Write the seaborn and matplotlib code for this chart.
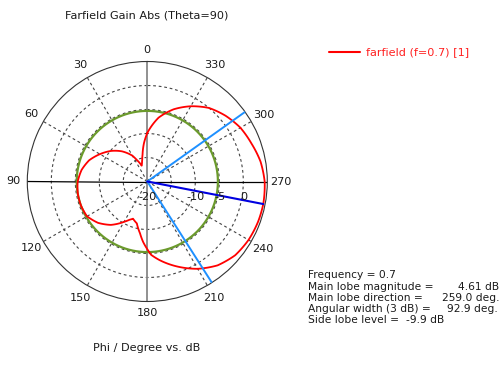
import numpy as np
import pandas as pd
import matplotlib
matplotlib.use("Agg")
import matplotlib.pyplot as plt
import matplotlib.transforms as mtransforms
from matplotlib.lines import Line2D
import seaborn as sns

# ---------------- data ----------------
phi_deg = [0, 5, 10, 13, 16, 19.6, 22, 26, 30, 40, 50, 60, 70, 80, 90, 100, 110, 120,
           130, 140, 150, 155, 159, 166, 172, 176, 180, 183, 189, 200, 210, 220, 230,
           240, 250, 259, 270, 280, 290, 300, 310, 320, 330, 340, 350, 360]
gain_db = [-9.9, -12.0, -14.3, -15.3, -16.0, -16.5, -15.9, -15.0, -13.8, -11.8, -10.1,
           -8.6, -7.1, -6.1, -5.5, -5.3, -5.3, -5.5, -6.6, -8.2, -10.3, -11.2, -11.7,
           -11.0, -9.1, -7.4, -5.9, -4.7, -3.4, -1.1, 1.0, 2.8, 3.9, 4.35, 4.55, 4.61,
           4.45, 3.95, 3.1, 2.4, 1.3, 0.0, -1.9, -4.0, -6.5, -9.9]
angle_ticks = [0, 30, 60, 90, 120, 150, 180, 210, 240, 270, 300, 330]
r_ticks = [-20, -10, -5, 0]
r_rings = [-15, -10, -5, 0]
r_min, r_max = -20, 5
main_lobe_mag = 4.61
main_lobe_dir = 259.0
ang_width = 92.9
side_lobe_level = -9.9
legend_label = "farfield (f=0.7) [1]"
info_labels = ["Frequency = 0.7", "Main lobe magnitude =", "Main lobe direction =",
               "Angular width (3 dB) =", "Side lobe level ="]
info_values = ["", "4.61 dB", "259.0 deg.", "92.9 deg.", "-9.9 dB"]

# ---------------- figure ----------------
sns.set_style("white")
plt.rcParams['font.family'] = ['DejaVu Sans']
FS = 7.7
FS_T = 8.1
TXT = '#1a1a1a'
W, H = 501, 365
fig = plt.figure(figsize=(W / 100, H / 100), dpi=100)
cx, cy, R = 147.3, 181.5, 120.0
ax = fig.add_axes([(cx - R) / W, (H - cy - R) / H, 2 * R / W, 2 * R / H], projection='polar')
ax.set_theta_zero_location('N')
ax.set_theta_direction(1)
ax.set_rlim(r_min, r_max)
ax.set_facecolor('white')
ax.grid(False)
ax.set_xticks([])
ax.set_yticks([])
ax.spines['polar'].set_color('#333333')
ax.spines['polar'].set_linewidth(0.8)

full = np.linspace(0, 2 * np.pi, 361)
dash = (0, (2.5, 2.5))
for rr in r_rings:
    ax.plot(full, np.full_like(full, rr), color='#444444', lw=0.8, ls=dash, zorder=1)
for a in angle_ticks:
    if a % 90:
        t = np.deg2rad(a)
        ax.plot([t, t], [r_min, r_max], color='#444444', lw=0.8, ls=dash, zorder=1)
# main cross
ax.plot([0, 0], [r_min, r_max], color='#888888', lw=1.3, zorder=2)
ax.plot([np.pi, np.pi], [r_min, r_max], color='#888888', lw=1.3, zorder=2)
ax.plot([np.pi / 2] * 2, [r_min, r_max], color='black', lw=0.9, zorder=2)
ax.plot([3 * np.pi / 2] * 2, [r_min, r_max], color='black', lw=0.9, zorder=2)

# side lobe circle (green)
sll_abs = main_lobe_mag + side_lobe_level
ax.plot(full, np.full_like(full, sll_abs), color='#6b9a2c', lw=1.6, zorder=3)

# pattern
df = pd.DataFrame({'theta': np.deg2rad(phi_deg), 'gain': gain_db})
n_before = len(ax.lines)
sns.lineplot(data=df, x='theta', y='gain', ax=ax, sort=False, color='#ff0000', lw=1.3,
             zorder=5, legend=False)
for ln in ax.lines[n_before:]:
    ln.get_path()._interpolation_steps = 40
ax.set_xlabel('')
ax.set_ylabel('')
ax.set_rlim(r_min, r_max)

# beam lines
for a in (main_lobe_dir - ang_width / 2, main_lobe_dir + ang_width / 2):
    t = np.deg2rad(a)
    ax.plot([t, t], [r_min, r_max], color='#1e90ff', lw=1.4, zorder=6)
t = np.deg2rad(main_lobe_dir)
ax.plot([t, t], [r_min, main_lobe_mag], color='#0000e0', lw=1.5, zorder=7)

# angle labels
px_per_db = R / (r_max - r_min)
for a in angle_ticks:
    rp = 131.5 if a in (0, 180) else 134.0
    ax.text(np.deg2rad(a), r_min + rp / px_per_db, str(a), ha='center', va='center',
            fontsize=FS_T, clip_on=False, color=TXT)

# radial labels
off = mtransforms.offset_copy(ax.transData, fig=fig, x=0.5, y=-15, units='dots')
for rv in r_ticks:
    ax.text(np.deg2rad(270), rv, str(rv), transform=off, ha='center', va='center',
            fontsize=FS_T, color=TXT, zorder=8)

# titles
fig.text(147 / W, 1 - 16 / H, "Farfield Gain Abs (Theta=90)", ha='center', va='center',
         fontsize=FS_T, color=TXT)
fig.text(147 / W, 1 - 348 / H, "Phi / Degree vs. dB", ha='center', va='center',
         fontsize=FS_T, color=TXT)

# legend
fig.add_artist(Line2D([329 / W, 360 / W], [1 - 52 / H] * 2, color='#ff0000', lw=1.5))
fig.text(366 / W, 1 - 52 / H, legend_label, ha='left', va='center', fontsize=FS_T,
         color='#ff2020')

# info block
ys = [275, 286.5, 297.8, 309, 320.3]
vx = [None, 458, 441.7, 446.7, 406]
for lab, val, y, x in zip(info_labels, info_values, ys, vx):
    fig.text(308 / W, 1 - y / H, lab, ha='left', va='center', fontsize=FS, color=TXT)
    if val:
        fig.text(x / W, 1 - y / H, val, ha='left', va='center', fontsize=FS, color=TXT)

fig.savefig('out.png', dpi=100)
